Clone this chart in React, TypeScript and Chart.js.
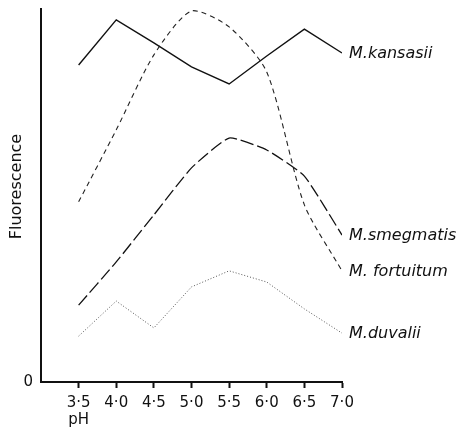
import React, { useEffect, useRef } from "react";
import { Chart, registerables } from "chart.js";

Chart.register(...registerables);

const phValues = [3.5, 4.0, 4.5, 5.0, 5.5, 6.0, 6.5, 7.0];
const tickLabels = ["3·5", "4·0", "4·5", "5·0", "5·5", "6·0", "6·5", "7·0"];
const xAxisName = "pH";
const yAxisName = "Fluorescence";
const seriesNames = ["M.kansasii", "M. fortuitum", "M.smegmatis", "M.duvalii"];
const kansasii = [85.0, 97.1, 90.9, 84.5, 79.9, 87.4, 94.6, 88.2];
const fortuitum = [48.3, 67.6, 87.7, 99.5, 95.2, 83.1, 47.5, 29.8];
const smegmatis = [20.6, 32.2, 44.8, 57.4, 65.4, 62.2, 55.2, 39.4];
const duvalii = [12.3, 21.7, 14.5, 25.5, 29.8, 26.8, 19.6, 13.1];

const FONT = "'DejaVu Sans', sans-serif";

const textPlugin = {
  id: "textPlugin",
  afterDatasetsDraw(chart: any) {
    const ctx = chart.ctx;
    ctx.save();
    ctx.font = `italic 16px ${FONT}`;
    ctx.fillStyle = "#111";
    ctx.textAlign = "left";
    ctx.textBaseline = "middle";
    chart.data.datasets.forEach((ds: any, i: number) => {
      const meta = chart.getDatasetMeta(i);
      const pt = meta.data[meta.data.length - 1];
      if (!pt) return;
      ctx.fillText(ds.label, pt.x + 7, pt.y + 1);
    });
    // y-axis name
    const area = chart.chartArea;
    ctx.font = `16px ${FONT}`;
    ctx.textAlign = "center";
    ctx.textBaseline = "middle";
    ctx.translate(17, (area.top + area.bottom) / 2 - 9);
    ctx.rotate(-Math.PI / 2);
    ctx.fillText(yAxisName, 0, 0);
    ctx.restore();
  },
};

const toPoints = (arr: number[]) => arr.map((v, i) => ({ x: phValues[i], y: v }));

export default function App() {
  const ref = useRef<HTMLCanvasElement | null>(null);
  useEffect(() => {
    if (!ref.current) return;
    const chart = new Chart(ref.current, {
      type: "line",
      data: {
        datasets: [
          {
            label: seriesNames[0],
            data: toPoints(kansasii),
            borderColor: "#111",
            borderWidth: 1.4,
            pointRadius: 0,
            tension: 0,
          },
          {
            label: seriesNames[1],
            data: toPoints(fortuitum),
            borderColor: "#222",
            borderWidth: 1.1,
            borderDash: [5, 4],
            pointRadius: 0,
            tension: 0.25,
          },
          {
            label: seriesNames[2],
            data: toPoints(smegmatis),
            borderColor: "#111",
            borderWidth: 1.3,
            borderDash: [13, 4],
            pointRadius: 0,
            tension: 0.15,
          },
          {
            label: seriesNames[3],
            data: toPoints(duvalii),
            borderColor: "#555",
            borderWidth: 1,
            borderDash: [1, 2],
            pointRadius: 0,
            tension: 0,
          },
        ],
      },
      options: {
        responsive: false,
        animation: false,
        layout: { padding: { top: 9, right: 117, left: 0, bottom: 0 } },
        plugins: {
          legend: { display: false },
          tooltip: { enabled: false },
        },
        scales: {
          x: {
            type: "linear",
            min: 3.0,
            max: 7.0,
            afterBuildTicks: (scale: any) => {
              scale.ticks = phValues.map((v) => ({ value: v }));
            },
            afterFit: (scale: any) => {
              scale.height = 46;
              scale.paddingLeft = 0;
              scale.paddingRight = 0;
            },
            grid: {
              drawOnChartArea: false,
              drawTicks: true,
              tickLength: 6,
              tickColor: "#111",
              tickWidth: 2,
            },
            border: { display: true, color: "#111", width: 2 },
            ticks: {
              color: "#111",
              font: { family: FONT, size: 15, lineHeight: 1.15 },
              padding: 6,
              maxRotation: 0,
              autoSkip: false,
              callback: (value: any) => {
                const i = phValues.indexOf(Number(value));
                const lbl = i >= 0 ? tickLabels[i] : "";
                return i === 0 ? [lbl, xAxisName] : lbl;
              },
            },
          },
          y: {
            min: 0,
            max: 100,
            afterBuildTicks: (scale: any) => {
              scale.ticks = [{ value: 0 }];
            },
            afterFit: (scale: any) => {
              scale.width = 41;
              scale.paddingTop = 0;
              scale.paddingBottom = 0;
            },
            grid: { drawOnChartArea: false, drawTicks: false },
            border: { display: true, color: "#111", width: 2 },
            ticks: {
              color: "#111",
              font: { family: FONT, size: 15 },
              padding: 8,
              callback: () => "0",
            },
          },
        },
      },
      plugins: [textPlugin],
    });
    return () => chart.destroy();
  }, []);
  return (
    <div style={{ position: "absolute", left: 0, top: 0, width: 459, height: 428, background: "#fff" }}>
      <canvas ref={ref} width={459} height={428} style={{ width: 459, height: 428 }} />
    </div>
  );
}
